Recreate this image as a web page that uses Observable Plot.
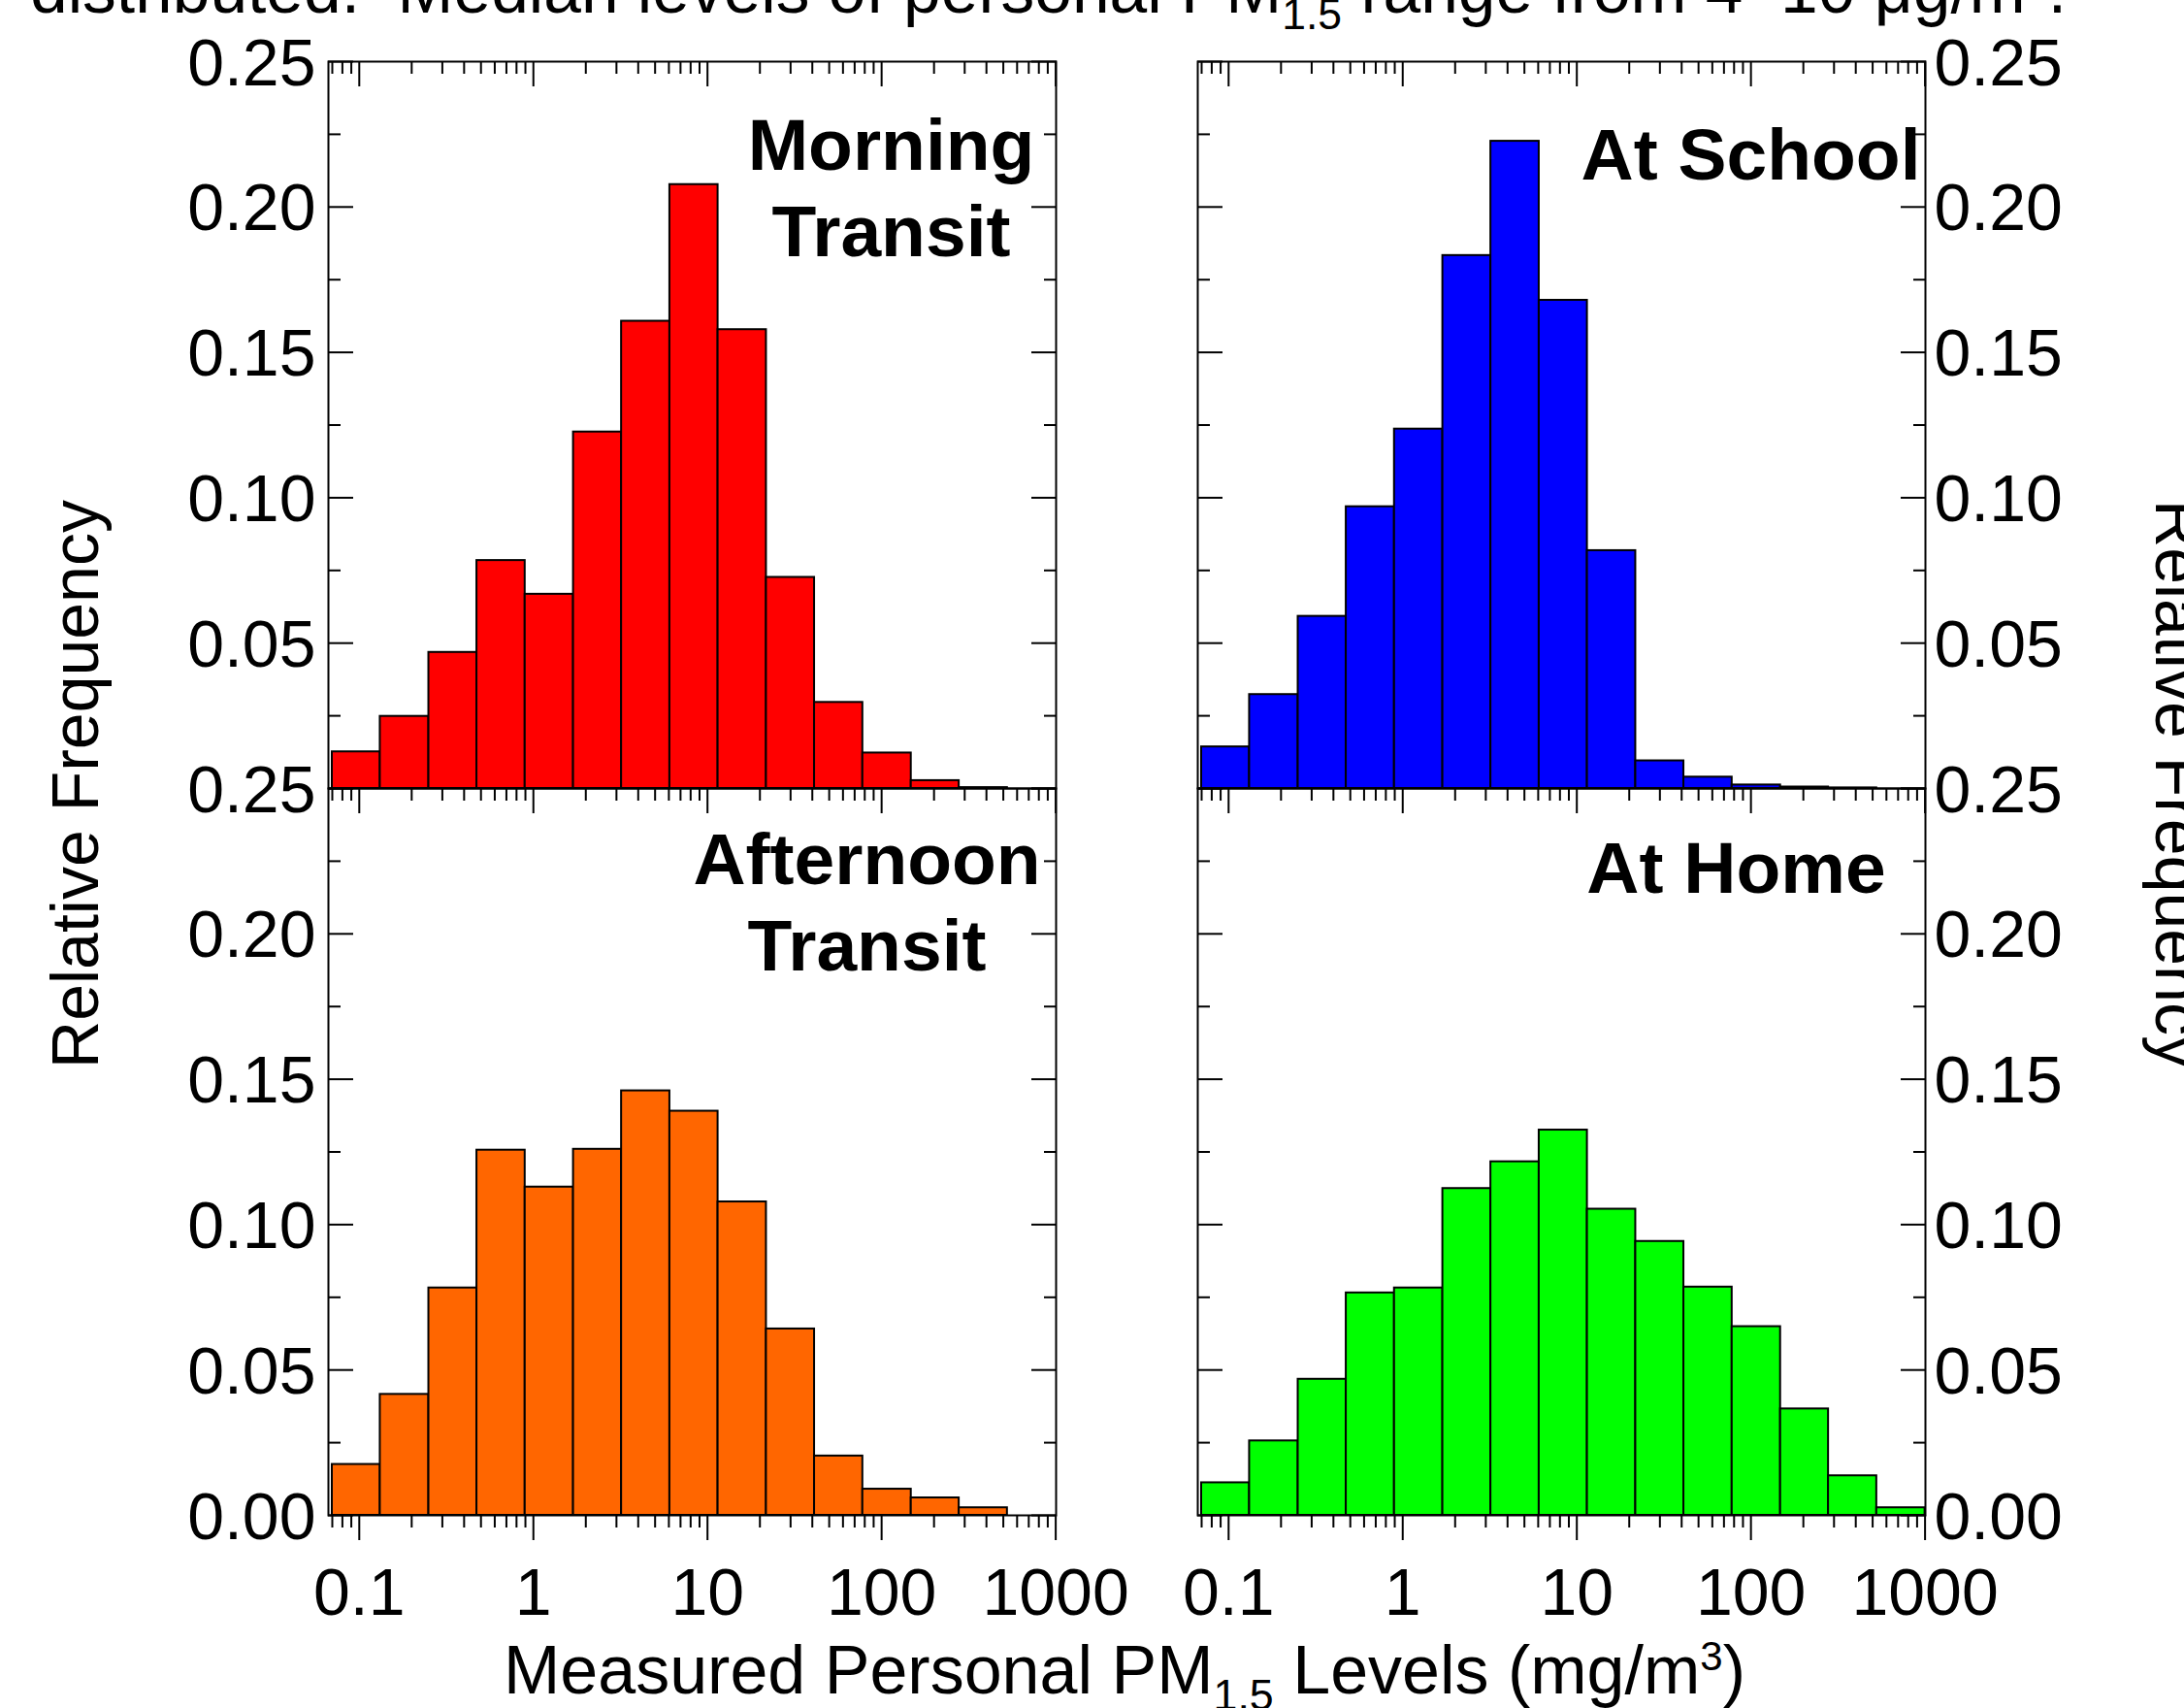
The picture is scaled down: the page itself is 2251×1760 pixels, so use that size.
<!DOCTYPE html>
<html>
<head>
<meta charset="utf-8">
<script src="https://cdn.jsdelivr.net/npm/d3@7"></script>
<script src="https://cdn.jsdelivr.net/npm/@observablehq/plot@0.6"></script>
<style>
html, body { margin: 0; padding: 0; background: #fff; overflow: hidden; }
#chart { width: 2251px; height: 1760px; }
</style>
</head>
<body>
<div id="chart"></div>
<script>
// ---- data ----
const binEdges = [0.07, 0.132, 0.251, 0.474, 0.897, 1.70, 3.21, 6.08, 11.5, 21.8, 41.2, 78.0, 148, 279, 528, 1000];
const panelNames = ["Morning\nTransit", "At School", "Afternoon\nTransit", "At Home"];
const panelRows = ["top", "top", "bottom", "bottom"];
const panelCols = ["left", "right", "left", "right"];
const panelColors = ["#ff0000", "#0000ff", "#ff6600", "#00ff00"];
const morningTransit = [0.0126, 0.0248, 0.0468, 0.0784, 0.0668, 0.1226, 0.1607, 0.2077, 0.1578, 0.0726, 0.0296, 0.0122, 0.0027, 0.0003, 0];
const atSchool = [0.0143, 0.0323, 0.0592, 0.0969, 0.1236, 0.1833, 0.2226, 0.1679, 0.0818, 0.0095, 0.0039, 0.0012, 0.0005, 0.0002, 0];
const afternoonTransit = [0.0175, 0.0416, 0.0782, 0.1256, 0.1129, 0.1259, 0.1460, 0.1390, 0.1078, 0.0641, 0.0204, 0.0090, 0.0060, 0.0026, 0];
const atHome = [0.0112, 0.0256, 0.0468, 0.0765, 0.0782, 0.1124, 0.1216, 0.1325, 0.1053, 0.0942, 0.0785, 0.0649, 0.0366, 0.0136, 0.0026];
const yTickValues = [0, 0.05, 0.10, 0.15, 0.20, 0.25];
const yMinorTicks = [0.025, 0.075, 0.125, 0.175, 0.225];
const xTickValues = [0.1, 1, 10, 100, 1000];
const xTickLabels = ["0.1", "1", "10", "100", "1000"];
const xMinorTicks = [0.07, 0.08, 0.09, 0.2, 0.3, 0.4, 0.5, 0.6, 0.7, 0.8, 0.9, 2, 3, 4, 5, 6, 7, 8, 9, 20, 30, 40, 50, 60, 70, 80, 90, 200, 300, 400, 500, 600, 700, 800, 900];
const captionParts = ["distributed.  Median levels of personal PM", "1.5", " range from 4\u201310 \u03bcg/m", "3", "."];
const xTitleParts = ["Measured Personal PM", "1.5", " Levels (mg/m", "3", ")"];
const yTitle = "Relative Frequency";

// ---- tables built from the arrays ----
const series = [morningTransit, atSchool, afternoonTransit, atHome];
const bars = series.flatMap((vals, p) => vals.map((v, i) => ({
  x1: binEdges[i], x2: binEdges[i + 1], y: v,
  row: panelRows[p], col: panelCols[p], color: panelColors[p]
})));
const yLabelRows = panelNames.flatMap((_, p) => yTickValues
  .filter(v => !(panelRows[p] === "top" && v === 0))
  .map(v => ({value: v, label: d3.format(".2f")(v), row: panelRows[p], col: panelCols[p]})));
const xLabelRows = panelNames.flatMap((_, p) => panelRows[p] === "bottom"
  ? xTickValues.map((v, i) => ({value: v, label: xTickLabels[i], row: panelRows[p], col: panelCols[p]}))
  : []);
const titleRows = panelNames.map((name, p) => ({name, row: panelRows[p], col: panelCols[p]}));

const FONT = '"Liberation Sans", Arial, Helvetica, sans-serif';
const tick = (axis, ticks, opts) => axis({
  ticks, stroke: "black", strokeWidth: 2, fill: "none",
  tickFormat: () => "", label: null, facetAnchor: null, ...opts
});
const title = (p, dx, dy) => Plot.text([titleRows[p]], {
  fx: "col", fy: "row", text: "name", frameAnchor: "top-right",
  textAnchor: "middle", lineAnchor: "bottom", lineHeight: 1.18,
  dx, dy, fontSize: 75, fontWeight: "bold", fill: "black"
});

const chart = Plot.plot({
  width: 2251,
  height: 1760,
  marginLeft: 338,
  marginRight: 267,
  marginTop: 62,
  marginBottom: 199,
  style: {fontFamily: FONT, background: "white", color: "black", overflow: "hidden"},
  x: {type: "log", domain: [0.0665, 1005], axis: null},
  y: {domain: [0, 0.25], axis: null},
  fx: {domain: ["left", "right"], paddingInner: 0.163, paddingOuter: 0, axis: null},
  fy: {domain: ["top", "bottom"], paddingInner: 0, paddingOuter: 0, axis: null},
  color: {type: "identity"},
  marks: [
    Plot.rectY(bars, {x1: "x1", x2: "x2", y: "y", fx: "col", fy: "row", fill: "color",
      stroke: "black", strokeWidth: 2, inset: 0}),
    tick(Plot.axisY, yTickValues, {anchor: "left", tickSize: 26, dx: 26}),
    tick(Plot.axisY, yMinorTicks, {anchor: "left", tickSize: 13, dx: 13}),
    tick(Plot.axisY, yTickValues, {anchor: "right", tickSize: 26, dx: -26}),
    tick(Plot.axisY, yMinorTicks, {anchor: "right", tickSize: 13, dx: -13}),
    tick(Plot.axisX, xTickValues, {anchor: "top", tickSize: 25, dy: 25}),
    tick(Plot.axisX, xMinorTicks, {anchor: "top", tickSize: 12, dy: 12}),
    tick(Plot.axisX, xTickValues, {anchor: "bottom", tickSize: 26, facetAnchor: "bottom"}),
    tick(Plot.axisX, xMinorTicks, {anchor: "bottom", tickSize: 13, facetAnchor: "bottom"}),
    Plot.frame({stroke: "black", strokeWidth: 2}),
    Plot.text(yLabelRows.filter(d => d.col === "left"), {fx: "col", fy: "row", y: "value", text: "label",
      frameAnchor: "left", textAnchor: "end", lineAnchor: "bottom", dx: -13, dy: 24, fontSize: 68, fill: "black"}),
    Plot.text(yLabelRows.filter(d => d.col === "right"), {fx: "col", fy: "row", y: "value", text: "label",
      frameAnchor: "right", textAnchor: "start", lineAnchor: "bottom", dx: 9, dy: 24, fontSize: 68, fill: "black"}),
    Plot.text(xLabelRows, {fx: "col", fy: "row", x: "value", text: "label",
      frameAnchor: "bottom", textAnchor: "middle", lineAnchor: "bottom", dy: 102, fontSize: 68, fill: "black"}),
    title(0, -170, 200),
    title(1, -180, 121),
    title(2, -195, 187),
    title(3, -195, 107)
  ]
});
chart.style.overflow = "hidden";
document.getElementById("chart").appendChild(chart);

// ---- outer texts with sub/superscripts ----
const svg = d3.select(chart);
function richText(parts, x, y, anchor, size) {
  const t = svg.append("text")
    .attr("x", x).attr("y", y)
    .attr("text-anchor", anchor)
    .attr("font-size", size)
    .attr("font-family", FONT)
    .attr("fill", "black")
    .style("white-space", "pre");
  t.append("tspan").text(parts[0]);
  t.append("tspan").attr("font-size", size * 0.64).attr("dy", 17).text(parts[1]);
  t.append("tspan").attr("dy", -17).text(parts[2]);
  t.append("tspan").attr("font-size", size * 0.6).attr("dy", -24).text(parts[3]);
  t.append("tspan").attr("dy", 24).text(parts[4]);
  return t;
}
richText(captionParts, 31, 13, "start", 69.5);
richText(xTitleParts, 1159, 1745, "middle", 70);

svg.append("text")
  .attr("transform", "translate(101,808) rotate(-90)")
  .attr("text-anchor", "middle").attr("font-size", 68).attr("font-family", FONT).attr("fill", "black")
  .text(yTitle);
svg.append("text")
  .attr("transform", "translate(2222,808) rotate(90)")
  .attr("text-anchor", "middle").attr("font-size", 68).attr("font-family", FONT).attr("fill", "black")
  .text(yTitle);
</script>
</body>
</html>
